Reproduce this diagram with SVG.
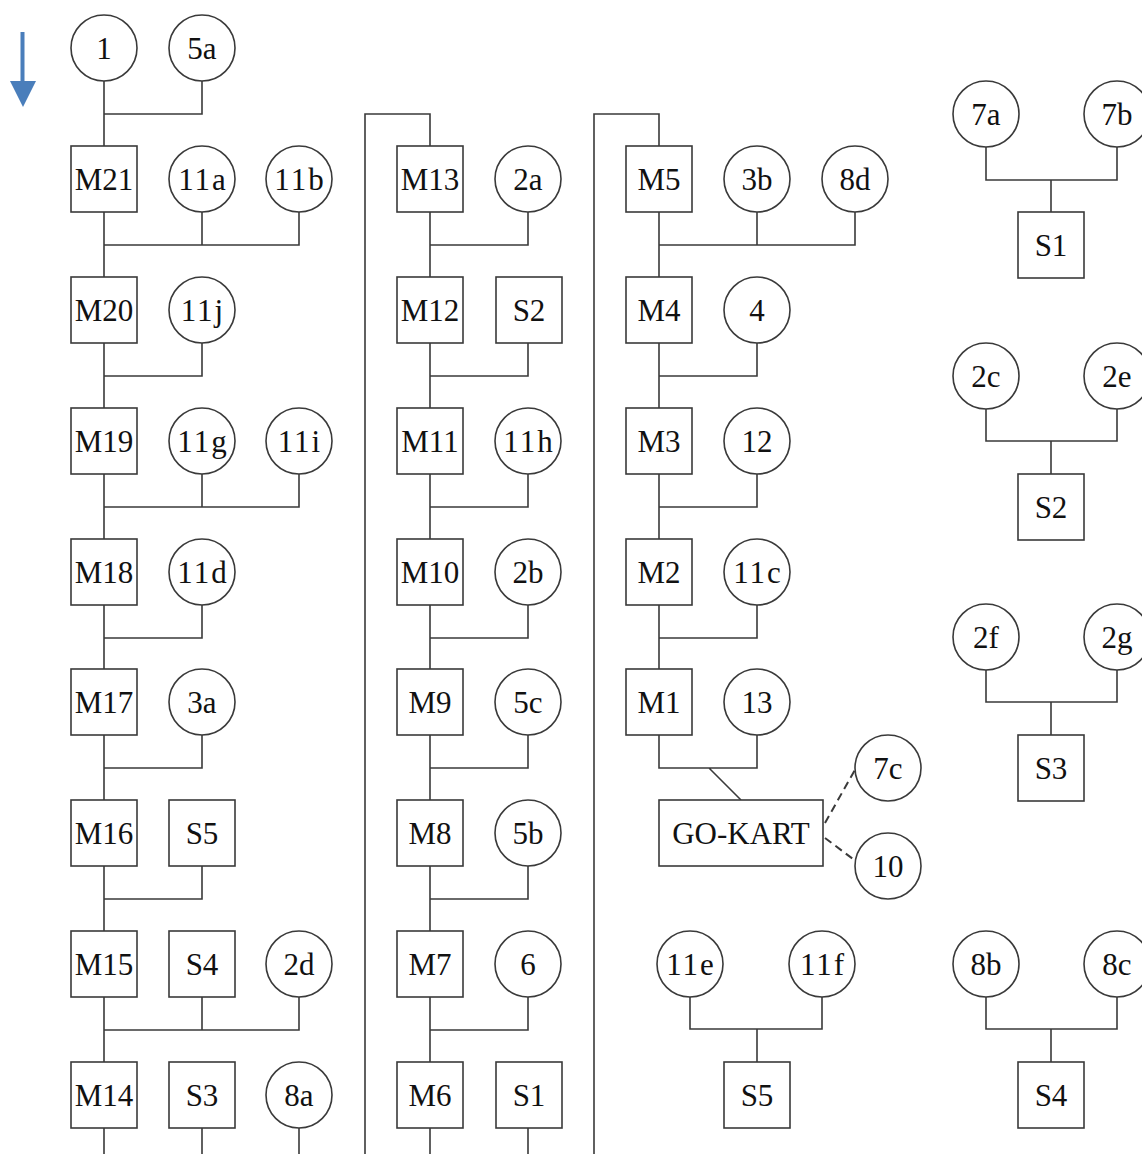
<svg xmlns="http://www.w3.org/2000/svg" width="1142" height="1154" viewBox="0 0 1142 1154">
<style>
.ln{fill:none;stroke:#3a3a3a;stroke-width:1.6}
.dash{fill:none;stroke:#3a3a3a;stroke-width:2;stroke-dasharray:8 5}
.n circle,.n rect{fill:#fff;stroke:#3a3a3a;stroke-width:1.6}
.n text{font-size:31px;fill:#111;text-anchor:middle}
.w text{letter-spacing:2px}
</style>
<rect width="1142" height="1154" fill="#fff"/>
<g id="arrow" fill="#4a7ebb">
<rect x="20.5" y="32" width="4" height="50"/>
<polygon points="10,81 36,81 23,107"/>
</g>
<g id="connectors">
<path class="ln" d="M104,81 V1154 M202,81 V114 H104 M202,212 V245 M299,212 V245 H104 M202,343 V376 H104 M202,474 V507 M299,474 V507 H104 M202,605 V638 H104 M202,735 V768 H104 M202,866 V899 H104 M202,997 V1030 M299,997 V1030 H104 M202,1128 V1154 M299,1128 V1154"/>
<path class="ln" d="M365,1154 V114 H430 V1154 M528,212 V245 H430 M528,343 V376 H430 M528,474 V507 H430 M528,605 V638 H430 M528,735 V768 H430 M528,866 V899 H430 M528,997 V1030 H430 M528,1128 V1154"/>
<path class="ln" d="M594,1154 V114 H659 V768 H757 V735 M757,212 V245 M855,212 V245 H659 M757,343 V376 H659 M757,474 V507 H659 M757,605 V638 H659 M709,768 L741,800"/>
<path class="dash" d="M825,823 L856,768 M825,838 L857,862"/>
<path class="ln" d="M986,147 V180 H1117 V147 M1051,180 V212 M986,409 V441 H1117 V409 M1051,441 V474 M986,670 V702 H1117 V670 M1051,702 V735 M986,997 V1029 H1117 V997 M1051,1029 V1062 M690,997 V1029 H822 V997 M757,1029 V1062"/>
</g>
<g font-family="Liberation Serif, serif">
<g id="n1" class="n"><circle cx="104" cy="48" r="33"/><text x="104" y="59">1</text></g>
<g id="n5a" class="n"><circle cx="202" cy="48" r="33"/><text x="202" y="59">5a</text></g>
<g id="M21" class="n"><rect x="71" y="146" width="66" height="66"/><text x="104" y="190">M21</text></g>
<g id="n11a" class="n w"><circle cx="202" cy="179" r="33"/><text x="203" y="190">11a</text></g>
<g id="n11b" class="n w"><circle cx="299" cy="179" r="33"/><text x="300" y="190">11b</text></g>
<g id="M20" class="n"><rect x="71" y="277" width="66" height="66"/><text x="104" y="321">M20</text></g>
<g id="n11j" class="n w"><circle cx="202" cy="310" r="33"/><text x="203" y="321">11j</text></g>
<g id="M19" class="n"><rect x="71" y="408" width="66" height="66"/><text x="104" y="452">M19</text></g>
<g id="n11g" class="n w"><circle cx="202" cy="441" r="33"/><text x="203" y="452">11g</text></g>
<g id="n11i" class="n w"><circle cx="299" cy="441" r="33"/><text x="300" y="452">11i</text></g>
<g id="M18" class="n"><rect x="71" y="539" width="66" height="66"/><text x="104" y="583">M18</text></g>
<g id="n11d" class="n w"><circle cx="202" cy="572" r="33"/><text x="203" y="583">11d</text></g>
<g id="M17" class="n"><rect x="71" y="669" width="66" height="66"/><text x="104" y="713">M17</text></g>
<g id="n3a" class="n"><circle cx="202" cy="702" r="33"/><text x="202" y="713">3a</text></g>
<g id="M16" class="n"><rect x="71" y="800" width="66" height="66"/><text x="104" y="844">M16</text></g>
<g id="S5a" class="n"><rect x="169" y="800" width="66" height="66"/><text x="202" y="844">S5</text></g>
<g id="M15" class="n"><rect x="71" y="931" width="66" height="66"/><text x="104" y="975">M15</text></g>
<g id="S4a" class="n"><rect x="169" y="931" width="66" height="66"/><text x="202" y="975">S4</text></g>
<g id="n2d" class="n"><circle cx="299" cy="964" r="33"/><text x="299" y="975">2d</text></g>
<g id="M14" class="n"><rect x="71" y="1062" width="66" height="66"/><text x="104" y="1106">M14</text></g>
<g id="S3a" class="n"><rect x="169" y="1062" width="66" height="66"/><text x="202" y="1106">S3</text></g>
<g id="n8a" class="n"><circle cx="299" cy="1095" r="33"/><text x="299" y="1106">8a</text></g>
<g id="M13" class="n"><rect x="397" y="146" width="66" height="66"/><text x="430" y="190">M13</text></g>
<g id="n2a" class="n"><circle cx="528" cy="179" r="33"/><text x="528" y="190">2a</text></g>
<g id="M12" class="n"><rect x="397" y="277" width="66" height="66"/><text x="430" y="321">M12</text></g>
<g id="S2a" class="n"><rect x="496" y="277" width="66" height="66"/><text x="529" y="321">S2</text></g>
<g id="M11" class="n"><rect x="397" y="408" width="66" height="66"/><text x="430" y="452">M11</text></g>
<g id="n11h" class="n w"><circle cx="528" cy="441" r="33"/><text x="529" y="452">11h</text></g>
<g id="M10" class="n"><rect x="397" y="539" width="66" height="66"/><text x="430" y="583">M10</text></g>
<g id="n2b" class="n"><circle cx="528" cy="572" r="33"/><text x="528" y="583">2b</text></g>
<g id="M9" class="n"><rect x="397" y="669" width="66" height="66"/><text x="430" y="713">M9</text></g>
<g id="n5c" class="n"><circle cx="528" cy="702" r="33"/><text x="528" y="713">5c</text></g>
<g id="M8" class="n"><rect x="397" y="800" width="66" height="66"/><text x="430" y="844">M8</text></g>
<g id="n5b" class="n"><circle cx="528" cy="833" r="33"/><text x="528" y="844">5b</text></g>
<g id="M7" class="n"><rect x="397" y="931" width="66" height="66"/><text x="430" y="975">M7</text></g>
<g id="n6" class="n"><circle cx="528" cy="964" r="33"/><text x="528" y="975">6</text></g>
<g id="M6" class="n"><rect x="397" y="1062" width="66" height="66"/><text x="430" y="1106">M6</text></g>
<g id="S1a" class="n"><rect x="496" y="1062" width="66" height="66"/><text x="529" y="1106">S1</text></g>
<g id="M5" class="n"><rect x="626" y="146" width="66" height="66"/><text x="659" y="190">M5</text></g>
<g id="n3b" class="n"><circle cx="757" cy="179" r="33"/><text x="757" y="190">3b</text></g>
<g id="n8d" class="n"><circle cx="855" cy="179" r="33"/><text x="855" y="190">8d</text></g>
<g id="M4" class="n"><rect x="626" y="277" width="66" height="66"/><text x="659" y="321">M4</text></g>
<g id="n4" class="n"><circle cx="757" cy="310" r="33"/><text x="757" y="321">4</text></g>
<g id="M3" class="n"><rect x="626" y="408" width="66" height="66"/><text x="659" y="452">M3</text></g>
<g id="n12" class="n"><circle cx="757" cy="441" r="33"/><text x="757" y="452">12</text></g>
<g id="M2" class="n"><rect x="626" y="539" width="66" height="66"/><text x="659" y="583">M2</text></g>
<g id="n11c" class="n w"><circle cx="757" cy="572" r="33"/><text x="758" y="583">11c</text></g>
<g id="M1" class="n"><rect x="626" y="669" width="66" height="66"/><text x="659" y="713">M1</text></g>
<g id="n13" class="n"><circle cx="757" cy="702" r="33"/><text x="757" y="713">13</text></g>
<g id="gokart" class="n"><rect x="659" y="800" width="164" height="66"/><text x="741" y="844">GO-KART</text></g>
<g id="n7c" class="n"><circle cx="888" cy="768" r="33"/><text x="888" y="779">7c</text></g>
<g id="n10" class="n"><circle cx="888" cy="866" r="33"/><text x="888" y="877">10</text></g>
<g id="n11e" class="n w"><circle cx="690" cy="964" r="33"/><text x="691" y="975">11e</text></g>
<g id="n11f" class="n w"><circle cx="822" cy="964" r="33"/><text x="823" y="975">11f</text></g>
<g id="S5" class="n"><rect x="724" y="1062" width="66" height="66"/><text x="757" y="1106">S5</text></g>
<g id="n7a" class="n"><circle cx="986" cy="114" r="33"/><text x="986" y="125">7a</text></g>
<g id="n7b" class="n"><circle cx="1117" cy="114" r="33"/><text x="1117" y="125">7b</text></g>
<g id="S1" class="n"><rect x="1018" y="212" width="66" height="66"/><text x="1051" y="256">S1</text></g>
<g id="n2c" class="n"><circle cx="986" cy="376" r="33"/><text x="986" y="387">2c</text></g>
<g id="n2e" class="n"><circle cx="1117" cy="376" r="33"/><text x="1117" y="387">2e</text></g>
<g id="S2" class="n"><rect x="1018" y="474" width="66" height="66"/><text x="1051" y="518">S2</text></g>
<g id="n2f" class="n"><circle cx="986" cy="637" r="33"/><text x="986" y="648">2f</text></g>
<g id="n2g" class="n"><circle cx="1117" cy="637" r="33"/><text x="1117" y="648">2g</text></g>
<g id="S3" class="n"><rect x="1018" y="735" width="66" height="66"/><text x="1051" y="779">S3</text></g>
<g id="n8b" class="n"><circle cx="986" cy="964" r="33"/><text x="986" y="975">8b</text></g>
<g id="n8c" class="n"><circle cx="1117" cy="964" r="33"/><text x="1117" y="975">8c</text></g>
<g id="S4" class="n"><rect x="1018" y="1062" width="66" height="66"/><text x="1051" y="1106">S4</text></g>
</g>
</svg>
